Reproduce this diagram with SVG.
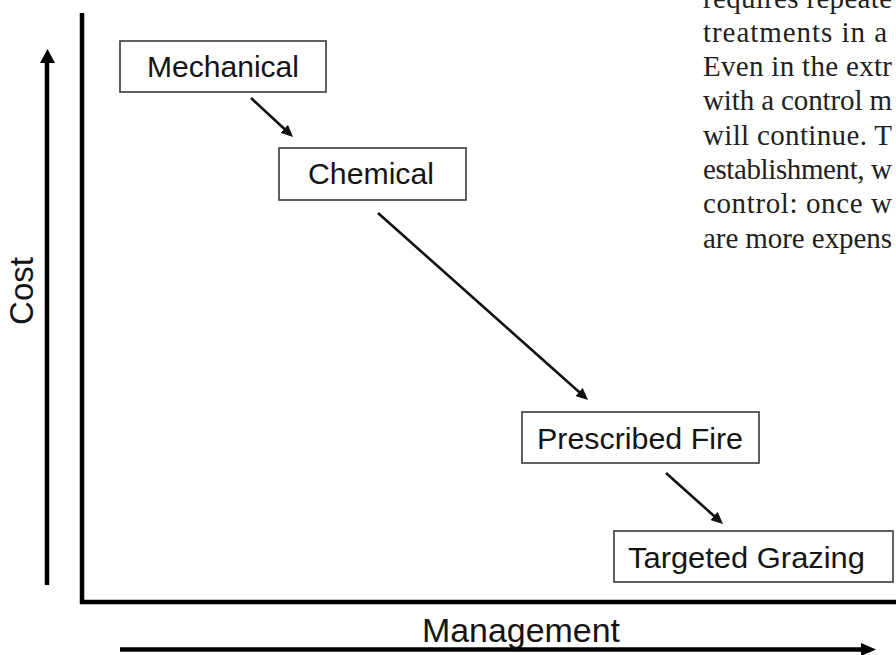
<svg xmlns="http://www.w3.org/2000/svg" width="896" height="655" viewBox="0 0 896 655">
  <style>
    .box { fill: #ffffff; stroke: #3a3a3a; stroke-width: 1.6; }
    .lbl { font-family: "Liberation Sans", Arial, sans-serif; font-size: 30px; fill: #141414; }
    .axis { stroke: #000000; stroke-width: 4.5; fill: none; }
    .conn { stroke: #111111; stroke-width: 2.6; fill: none; }
    .ax-title { font-family: "Liberation Sans", Arial, sans-serif; font-size: 33px; fill: #141414; }
    .body { font-family: "Liberation Serif", "Times New Roman", serif; font-size: 29px; fill: #231f20; }
  </style>
  <defs>
    <marker id="head" viewBox="0 0 12 11" refX="8" refY="5.5" markerWidth="12" markerHeight="11" markerUnits="userSpaceOnUse" orient="auto">
      <path d="M0,0 L12,5.5 L0,11 z" fill="#111111"/>
    </marker>
  </defs>
  <rect width="896" height="655" fill="#ffffff"/>

  <g id="body-text">
    <text class="body" x="703" y="8" textLength="189" lengthAdjust="spacing">requires repeate</text>
    <text class="body" x="703" y="42" textLength="184" lengthAdjust="spacing">treatments in a</text>
    <text class="body" x="703" y="76" textLength="189" lengthAdjust="spacing">Even in the extr</text>
    <text class="body" x="703" y="110" textLength="189" lengthAdjust="spacing">with a control m</text>
    <text class="body" x="703" y="145" textLength="189" lengthAdjust="spacing">will continue. T</text>
    <text class="body" x="703" y="179" textLength="189" lengthAdjust="spacing">establishment, w</text>
    <text class="body" x="703" y="213" textLength="189" lengthAdjust="spacing">control: once w</text>
    <text class="body" x="703" y="248" textLength="189" lengthAdjust="spacing">are more expens</text>
  </g>

  <g id="axes">
    <path class="axis" d="M82,13 L82,602 L896,602"/>
    <line class="axis" x1="47" y1="585" x2="47" y2="60"/>
    <polygon points="40,63 47.5,49 55,63" fill="#000000"/>
    <line class="axis" x1="120" y1="649.5" x2="863" y2="649.5"/>
    <polygon points="861,643 876,649.5 861,656" fill="#000000"/>
    <text class="ax-title" transform="rotate(-90 33 291)" x="33" y="291" text-anchor="middle">Cost</text>
    <text class="ax-title" x="422" y="642" textLength="198" lengthAdjust="spacingAndGlyphs">Management</text>
  </g>

  <g id="connectors">
    <line class="conn" x1="251" y1="98" x2="290.1" y2="134.3" marker-end="url(#head)"/>
    <line class="conn" x1="378" y1="213" x2="585" y2="397.3" marker-end="url(#head)"/>
    <line class="conn" x1="666" y1="473" x2="720" y2="521.3" marker-end="url(#head)"/>
  </g>

  <g id="node-mechanical">
    <rect class="box" x="120" y="41" width="206" height="51"/>
    <text class="lbl" x="147" y="77" textLength="152" lengthAdjust="spacingAndGlyphs">Mechanical</text>
  </g>
  <g id="node-chemical">
    <rect class="box" x="279" y="148" width="187" height="52"/>
    <text class="lbl" x="308" y="184" textLength="126" lengthAdjust="spacingAndGlyphs">Chemical</text>
  </g>
  <g id="node-prescribed-fire">
    <rect class="box" x="522" y="412" width="237" height="51"/>
    <text class="lbl" x="537" y="449" textLength="206" lengthAdjust="spacingAndGlyphs">Prescribed Fire</text>
  </g>
  <g id="node-targeted-grazing">
    <rect class="box" x="614" y="531" width="279" height="51"/>
    <text class="lbl" x="628" y="568" textLength="237" lengthAdjust="spacingAndGlyphs">Targeted Grazing</text>
  </g>
</svg>
